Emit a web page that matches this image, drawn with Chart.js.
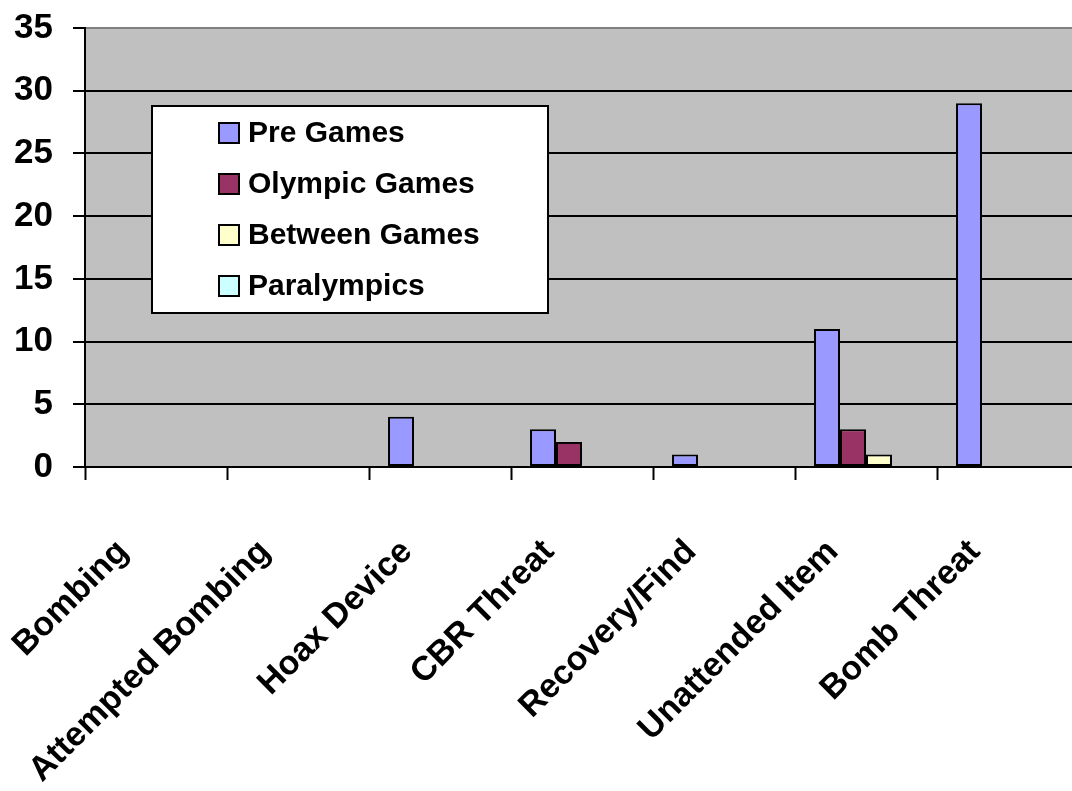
<!DOCTYPE html>
<html lang="en">
<head>
<meta charset="utf-8">
<title>Incidents by type</title>
<script src="https://cdn.jsdelivr.net/npm/chart.js"></script>
<style>
  html, body { margin: 0; padding: 0; background: #fff; overflow: hidden; }
  #wrap { width: 1079px; height: 791px; }
</style>
</head>
<body>
<div id="wrap"><canvas id="incidentChart" width="1079" height="791"></canvas></div>
<script>
// categories and series
const categories = ['Bombing', 'Attempted Bombing', 'Hoax Device', 'CBR Threat', 'Recovery/Find', 'Unattended Item', 'Bomb Threat'];
const preGames = [0, 0, 4, 3, 1, 11, 29];
const olympicGames = [0, 0, 0, 2, 0, 3, 0];
const betweenGames = [0, 0, 0, 0, 0, 1, 0];
const paralympics = [0, 0, 0, 0, 0, 0, 0];
const yTicks = [0, 5, 10, 15, 20, 25, 30, 35];

// grey plot area behind the bars
const plotBackground = {
  id: 'plotBackground',
  beforeDraw(chart) {
    const { ctx, chartArea: a } = chart;
    ctx.save();
    ctx.fillStyle = '#C0C0C0';
    ctx.fillRect(a.left, a.top, a.right - a.left, a.bottom - a.top);
    ctx.restore();
  }
};

// boxed legend sitting inside the plot, like the original
const boxLegend = {
  id: 'boxLegend',
  afterDraw(chart) {
    const ctx = chart.ctx;
    ctx.save();
    ctx.fillStyle = '#fff';
    ctx.fillRect(152, 106, 396, 207);
    ctx.strokeStyle = '#000';
    ctx.lineWidth = 2;
    ctx.strokeRect(152, 106, 396, 207);
    ctx.font = 'bold 30px "Liberation Sans", Arial, sans-serif';
    ctx.textBaseline = 'middle';
    chart.data.datasets.forEach((ds, i) => {
      const y = 133 + i * 51;
      ctx.fillStyle = ds.backgroundColor;
      ctx.fillRect(219, y - 10, 20, 20);
      ctx.strokeStyle = '#000';
      ctx.lineWidth = 2;
      ctx.strokeRect(219, y - 10, 20, 20);
      ctx.fillStyle = '#000';
      ctx.fillText(ds.label, 248, y + 1);
    });
    ctx.restore();
  }
};

const ctx = document.getElementById('incidentChart').getContext('2d');
new Chart(ctx, {
  type: 'bar',
  data: {
    labels: categories,
    datasets: [
      { label: 'Pre Games', data: preGames, backgroundColor: '#9999FF' },
      { label: 'Olympic Games', data: olympicGames, backgroundColor: '#993366' },
      { label: 'Between Games', data: betweenGames, backgroundColor: '#FFFFCC' },
      { label: 'Paralympics', data: paralympics, backgroundColor: '#CCFFFF' }
    ].map(d => Object.assign(d, {
      borderColor: '#000',
      borderWidth: 2,
      borderSkipped: false,
      categoryPercentage: 0.732,
      barPercentage: 1.0
    }))
  },
  options: {
    responsive: false,
    animation: false,
    layout: { padding: { top: 28, right: 0, left: 0, bottom: 0 } },
    plugins: {
      legend: { display: false },
      tooltip: { enabled: false }
    },
    scales: {
      x: {
        offset: true,
        grid: {
          drawOnChartArea: false,
          drawTicks: true,
          tickLength: 13,
          tickColor: '#000',
          tickWidth: 2,
          offset: true
        },
        border: { color: '#000', width: 2 },
        ticks: {
          color: '#000',
          font: { family: '"Liberation Sans", Arial, sans-serif', size: 34, weight: 'bold' },
          minRotation: 45,
          maxRotation: 45,
          autoSkip: false,
          padding: 52,
          labelOffset: -33
        },
        afterFit(scale) {
          scale.height = 324;
          scale.paddingLeft = 0;
          scale.paddingRight = 0;
        }
      },
      y: {
        min: 0,
        max: 35,
        afterBuildTicks(scale) {
          scale.ticks = yTicks.map(v => ({ value: v }));
        },
        grid: {
          color: c => (c.tick && c.tick.value === 35 ? '#808080' : '#000'),
          lineWidth: 2,
          tickLength: 12,
          tickColor: '#000',
          tickWidth: 2
        },
        border: { color: '#000', width: 2 },
        ticks: {
          color: '#000',
          font: { family: '"Liberation Sans", Arial, sans-serif', size: 35, weight: 'bold' },
          padding: 20
        },
        afterFit(scale) {
          scale.width = 85;
          scale.paddingTop = 0;
          scale.paddingBottom = 0;
        }
      }
    }
  },
  plugins: [plotBackground, boxLegend]
});
</script>
</body>
</html>
